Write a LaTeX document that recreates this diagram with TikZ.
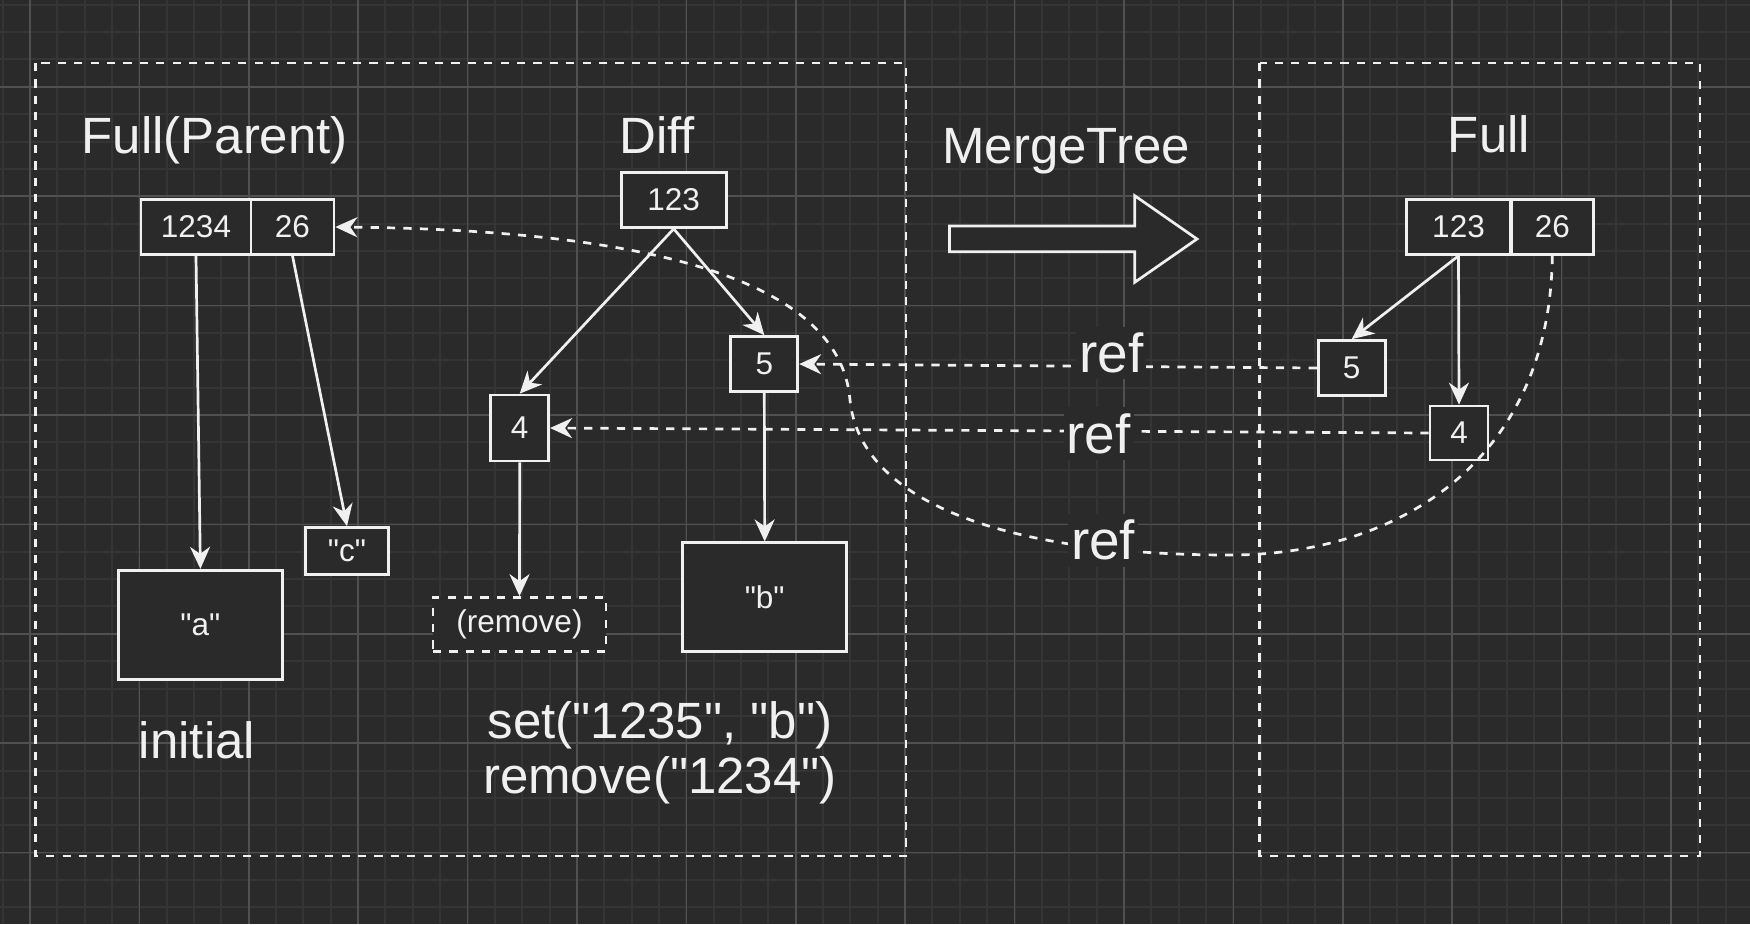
\documentclass[tikz,border=0pt]{standalone}
\usepackage{fontspec}
\setmainfont{Liberation Sans}
\usetikzlibrary{arrows.meta}
\definecolor{bg}{HTML}{2A2A2A}
\definecolor{gminor}{HTML}{353535}
\definecolor{gmajor}{HTML}{505050}
\definecolor{fg}{HTML}{F0F0F0}
\newcommand\fbig{\fontsize{51}{56}\selectfont}
\newcommand\fref{\fontsize{55}{60}\selectfont}
\newcommand\fsml{\fontsize{31.5}{36}\selectfont}
\newcommand\qq{\textquotedbl}
\begin{document}
\begin{tikzpicture}[x=1pt,y=-1pt,
  box/.style={draw=fg, fill=bg, line width=2.7pt, text=fg, font=\fsml, inner sep=0pt},
  dbox/.style={box, dash pattern=on 8.2pt off 8.2pt},
  conn/.style={draw=fg, line width=2.7pt, -{Stealth[length=22pt,width=20pt,inset=7pt]}},
  refline/.style={conn, dash pattern=on 8.2pt off 8.2pt},
  reflabel/.style={fill=bg, text=fg, font=\fref, inner xsep=3pt, inner ysep=6pt, anchor=base},
  title/.style={text=fg, font=\fbig, inner sep=0pt, anchor=base},
  frame/.style={draw=fg, line width=2.7pt, dash pattern=on 8.2pt off 8.2pt},
]
\useasboundingbox (0,0) rectangle (1750,924);
\fill[bg] (0,0) rectangle (1750,924);
% grid
\foreach \i in {0,...,63} \draw[gminor, line width=2pt] ({2.55+27.35*\i},0) -- ++(0,924);
\foreach \j in {0,...,33} \draw[gminor, line width=2pt] (0,{4.75+27.35*\j}) -- ++(1750,0);
\foreach \i in {0,...,15} \draw[gmajor, line width=1.6pt] ({29.9+109.4*\i},0) -- ++(0,924);
\foreach \j in {0,...,7} \draw[gmajor, line width=1.6pt] (0,{86.8+109.4*\j}) -- ++(1750,0);

% containers
\draw[frame] (35.7,63) rectangle (906,856);
\draw[frame] (1259.5,63) rectangle (1700,856);

% titles
\node[title] (tparent) at (214.7,153.5) {Full(Parent)};
\node[title] (tdiff) at (657,153.3) {Diff};
\node[title] (tmerge) at (1066,163.3) {MergeTree};
\node[title] (tfull) at (1489,152.3) {Full};
\node[title] (tinit) at (197,758.3) {initial};
\node[title] (tset) at (660,738.3) {set(\qq1235\qq, \qq b\qq)};
\node[title] (trem) at (660,793.3) {remove(\qq1234\qq)};

% merge arrow
\draw[draw=fg, fill=bg, line width=2.7pt, line join=miter]
  (949.5,226) -- (1134.7,226) -- (1134.7,195.7) -- (1197,239) -- (1134.7,282.3)
  -- (1134.7,251.7) -- (949.5,251.7) -- cycle;

% parent
\node[box, minimum width=110pt, minimum height=55pt] (p1234) at (196,227) {1234};
\node[box, minimum width=83pt, minimum height=55pt] (p26) at (292.5,227) {26};
\node[box, minimum width=164pt, minimum height=109pt] (a) at (200.4,624.7) {\qq a\qq};
\node[box, minimum width=83pt, minimum height=47pt] (c) at (347,551) {\qq c\qq};

% diff
\node[box, minimum width=105pt, minimum height=55pt] (d123) at (673.7,200) {123};
\node[box, minimum width=67pt, minimum height=55pt] (d5) at (764.3,364) {5};
\node[box, minimum width=58pt, minimum height=66pt] (d4) at (519.7,428) {4};
\node[dbox, minimum width=173pt, minimum height=54pt] (rm) at (519.5,624.5) {(remove)};
\node[box, minimum width=164pt, minimum height=109pt] (b) at (764.7,597.3) {\qq b\qq};

% full
\node[box, minimum width=104pt, minimum height=55pt] (r123) at (1458.5,227) {123};
\node[box, minimum width=82pt, minimum height=55pt] (r26) at (1552.3,227) {26};
\node[box, minimum width=67pt, minimum height=55pt] (r5) at (1351.7,368) {5};
\node[box, minimum width=58pt, minimum height=54pt] (r4) at (1459,433) {4};

% edges
\draw[conn] (p1234.south) -- (a.north);
\draw[conn] (p26.south) -- (c.north);
\draw[conn] (d123.south) -- (d4.north);
\draw[conn] (d123.south) -- (d5.north);
\draw[conn] (d5.south) -- (b.north);
\draw[conn] (d4.south) -- (rm.north);
\draw[conn] (r123.south) -- (r5.north);
\draw[conn] (r123.south) -- (r4.north);

\draw[refline] (r5.west) -- node[reflabel, pos=0.397, yshift=-6.3pt] (ref1) {ref} (d5.east);
\draw[refline] (r4.west) -- node[reflabel, pos=0.3755, yshift=-22pt] (ref2) {ref} (d4.east);

\coordinate (cv1) at (1230,555);
\coordinate (cv2) at (850,400);
\draw[refline] (r26.south) .. controls (1550,460) and (1400,555) .. (cv1)
  .. controls (1000,555) and (860,500) .. node[reflabel, pos=0.2, yshift=-11.5pt] (ref3) {ref} (cv2)
  .. controls (840,280) and (650,230) .. (p26.east);
\end{tikzpicture}
\end{document}
